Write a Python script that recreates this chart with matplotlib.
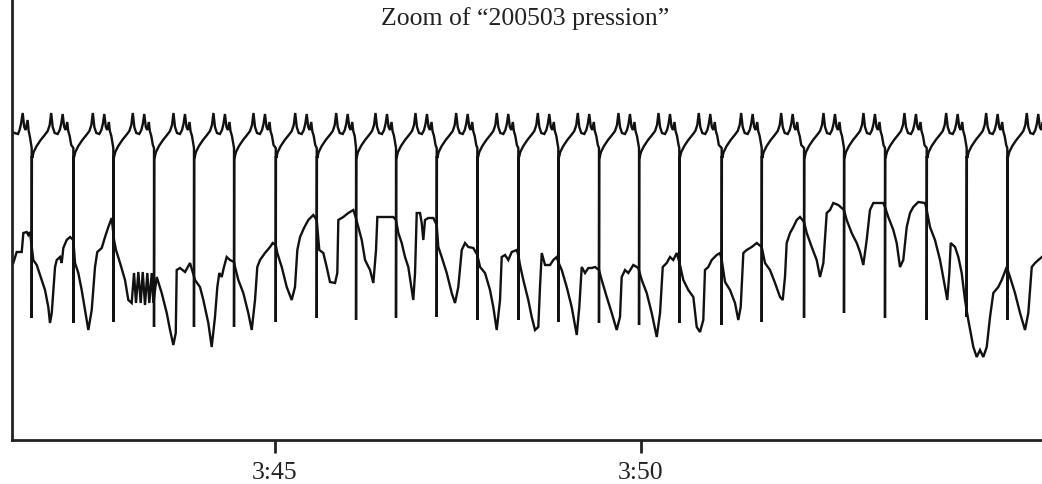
import matplotlib
matplotlib.use("Agg")
import matplotlib.pyplot as plt

# ---------------- data (time in minutes after 3:00, pressure in arbitrary units) -------------
title = "Zoom of \u201c200503 pression\u201d"
tick_pos = [45, 50]
tick_labels = ["3:45", "3:50"]

# upper trace: beginning (before the first sharp drop)
head_t = [41.40, 41.44, 41.49, 41.51, 41.53, 41.553, 41.574, 41.594, 41.620, 41.635, 41.652, 41.670]
head_v = [309, 307, 306, 310, 316, 327, 313, 310, 320, 309, 303, 295]

# times of the sharp downward drops of the upper trace and their lowest values
needle_t = [41.676, 42.245, 42.791, 43.347, 43.893, 44.440, 45.010, 45.570, 46.107, 46.653,
            47.209, 47.764, 48.324, 48.870, 49.426, 49.973, 50.523, 51.102, 51.649, 52.227,
            52.773, 53.333, 53.903, 54.449, 55.004]
needle_tip = [122, 117, 118, 113, 113, 113, 118, 122, 120, 122, 123, 120, 120, 118, 117,
              115, 117, 115, 118, 122, 127, 122, 120, 123, 120]

# shape of each upper pulse after a drop (offset in minutes, value)
pulse_off = [0.007, 0.027, 0.068, 0.123, 0.178, 0.219, 0.246, 0.266, 0.287, 0.314,
             0.355, 0.383, 0.403, 0.423, 0.444, 0.464, 0.485, 0.499, 0.519, 0.540]
pulse_val = [282, 288, 294, 300, 305, 309, 315, 327, 313, 307,
             306, 310, 316, 326, 313, 310, 318, 309, 304, 295]

# lower trace
low_t = [41.425, 41.471, 41.540, 41.562, 41.608, 41.630, 41.653, 41.698, 41.745, 41.813,
         41.858, 41.903, 41.926, 41.950, 41.995, 42.018, 42.063, 42.086, 42.108, 42.154,
         42.200, 42.245, 42.268, 42.313, 42.359, 42.404, 42.450, 42.496, 42.541, 42.572,
         42.633, 42.678, 42.723, 42.769, 42.801, 42.828, 42.883, 42.951, 42.996, 43.042,
         43.074, 43.101, 43.133, 43.165, 43.193, 43.224, 43.256, 43.283, 43.316, 43.338,
         43.384, 43.452, 43.521, 43.566, 43.611, 43.644, 43.657, 43.702,
         43.771, 43.839, 43.907, 43.975, 44.021, 44.089, 44.135, 44.180, 44.212, 44.239,
         44.272, 44.303, 44.340, 44.385, 44.440, 44.454, 44.499, 44.567, 44.635, 44.682,
         44.727, 44.758, 44.795, 44.863, 44.932, 44.969, 45.010, 45.031, 45.092, 45.160,
         45.228, 45.273, 45.305, 45.342, 45.396, 45.455, 45.523, 45.570, 45.605, 45.660,
         45.706, 45.751, 45.820, 45.851, 45.865, 45.933, 46.001, 46.070,
         46.093, 46.138, 46.185, 46.230, 46.298, 46.343, 46.380, 46.398, 46.458, 46.526,
         46.616, 46.653, 46.685, 46.731, 46.776, 46.821, 46.889, 46.913, 46.936, 46.981,
         47.004, 47.026, 47.049, 47.094, 47.163, 47.209, 47.231, 47.277, 47.346, 47.414,
         47.459, 47.504, 47.551, 47.596, 47.641, 47.709, 47.764, 47.801, 47.869, 47.937,
         47.982, 48.029, 48.074, 48.097, 48.142, 48.187, 48.234, 48.302, 48.324, 48.347,
         48.392,
         48.460, 48.507, 48.552, 48.597, 48.620, 48.644, 48.689, 48.757, 48.802, 48.848,
         48.870, 48.917, 48.985, 49.053, 49.122, 49.157, 49.190, 49.235, 49.280, 49.327,
         49.372, 49.426, 49.463, 49.532, 49.600, 49.668, 49.713, 49.736, 49.782, 49.827,
         49.895, 49.963, 50.010, 50.078, 50.146, 50.215, 50.260, 50.297, 50.351, 50.396,
         50.441, 50.488, 50.523, 50.578, 50.646, 50.715,
         50.761, 50.806, 50.851, 50.874, 50.919, 50.966, 51.034, 51.079, 51.103, 51.148,
         51.216, 51.284, 51.329, 51.362, 51.398, 51.444, 51.512, 51.581, 51.649, 51.694,
         51.762, 51.831, 51.899, 51.936, 51.967, 51.990, 52.036, 52.081, 52.127, 52.172,
         52.227, 52.264, 52.332, 52.400, 52.445, 52.491, 52.537, 52.582, 52.627, 52.695,
         52.773, 52.810, 52.878, 52.947, 52.992, 53.037,
         53.083, 53.128, 53.174, 53.242, 53.310, 53.333, 53.378, 53.447, 53.493, 53.538,
         53.583, 53.630, 53.675, 53.720, 53.788, 53.880, 53.903, 53.948, 54.016, 54.085,
         54.153, 54.184, 54.212, 54.231, 54.290, 54.335, 54.381, 54.426, 54.471, 54.540,
         54.586, 54.631, 54.676, 54.723, 54.768, 54.813, 54.881, 54.928, 54.996, 55.041,
         55.109, 55.178, 55.246, 55.291, 55.338, 55.383, 55.428, 55.478]
low_v = [177, 188, 188, 207, 208, 205, 208, 180, 175, 160,
         150, 133, 117, 127, 173, 180, 183, 177, 192, 200,
         203, 200, 177, 167, 150, 130, 110, 130, 173, 188,
         192, 203, 213, 222, 200, 190, 177, 160, 140, 137,
         167, 137, 168, 137, 168, 135, 167, 137, 167, 137,
         163, 147, 127, 110, 95, 107, 170, 172,
         168, 177, 160, 153, 140, 117, 93, 123, 153, 167,
         163, 173, 183, 180, 178, 173, 160, 147, 127, 110,
         140, 173, 180, 187, 193, 197, 195, 187, 173, 153,
         140, 153, 190, 203, 212, 220, 225, 220, 190, 187,
         173, 158, 157, 167, 220, 223, 227, 230,
         225, 213, 200, 180, 170, 157, 190, 223, 223, 223,
         223, 220, 207, 197, 183, 173, 140, 167, 227, 227,
         217, 200, 220, 222, 222, 215, 193, 183, 167, 147,
         137, 153, 190, 197, 193, 192, 185, 173, 167, 150,
         133, 110, 140, 183, 185, 180, 188, 190, 185, 175,
         160,
         140, 123, 110, 113, 153, 187, 175, 175, 180, 183,
         178, 170, 153, 133, 105, 133, 173, 167, 172, 172,
         173, 170, 160, 143, 127, 110, 123, 163, 170, 167,
         175, 172, 160, 147, 127, 103, 127, 173, 177, 183,
         180, 187, 178, 160, 150, 143,
         113, 108, 120, 170, 173, 180, 185, 187, 180, 158,
         150, 137, 120, 133, 187, 190, 193, 197, 193, 177,
         170, 157, 143, 140, 163, 197, 207, 213, 220, 223,
         218, 207, 193, 180, 163, 177, 227, 230, 237, 235,
         230, 220, 207, 197, 188, 175,
         200, 230, 237, 237, 237, 233, 223, 210, 197, 173,
         180, 213, 227, 233, 238, 237, 230, 213, 200, 180,
         153, 140, 167, 197, 193, 183, 167, 140, 120, 93,
         83, 90, 83, 93, 123, 147, 153, 160, 173, 163,
         147, 127, 110, 127, 173, 177, 180, 183]

# ---------------- build upper trace ----------------
top_t = list(head_t)
top_v = list(head_v)
for i, (tn, tip) in enumerate(zip(needle_t, needle_tip)):
    nxt = needle_t[i + 1] if i + 1 < len(needle_t) else 1e9
    top_t += [tn, tn, tn + 0.003]
    top_v += [292, tip, 284]
    for o, v in zip(pulse_off, pulse_val):
        if tn + o < nxt - 0.004:
            top_t.append(tn + o)
            top_v.append(v)

# ---------------- figure ----------------
W, H = 1042, 484
fig = plt.figure(figsize=(W / 100, H / 100), dpi=100)
ax = fig.add_axes([12 / W, 44 / H, 1 - 12 / W, 440 / H])

line_kw = dict(color="#111111", lw=1.7, solid_joinstyle="miter")
ax.plot(low_t, low_v, **line_kw)
ax.plot(top_t, top_v, **line_kw)

ax.set_xlim(41.407, 55.478)
ax.set_ylim(0, 440)

for s in ("top", "right"):
    ax.spines[s].set_visible(False)
for s in ("left", "bottom"):
    ax.spines[s].set_linewidth(2.0)
    ax.spines[s].set_color("#222222")

ax.set_xticks(tick_pos)
ax.set_xticklabels(tick_labels, fontfamily="Liberation Serif", fontsize=18.5, color="#222222")
ax.tick_params(axis="x", length=9, width=2.0, color="#222222", pad=7)
ax.set_yticks([])

fig.text(525 / W, 1 - 19 / H, title, ha="center", va="center",
         fontfamily="Liberation Serif", fontsize=18.5, color="#222222")

fig.savefig("out.png", dpi=100)
